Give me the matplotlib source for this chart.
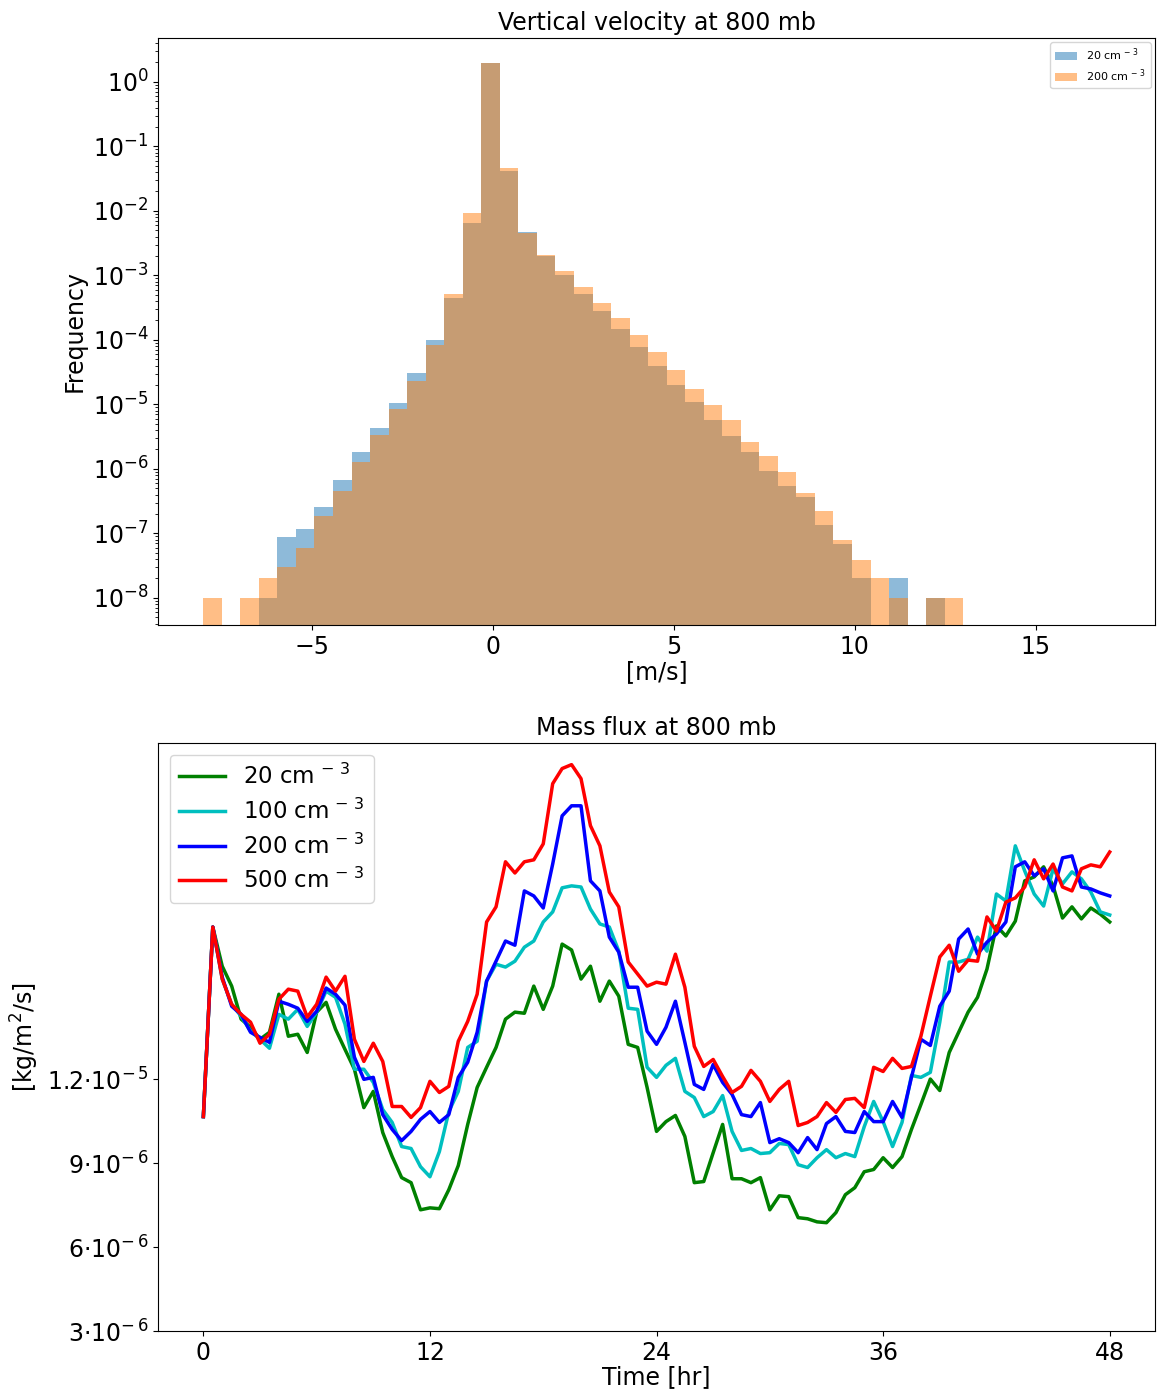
import numpy as np
import matplotlib
matplotlib.use('Agg')
import matplotlib.pyplot as plt

# --- histogram of vertical velocity (density, log scale) ---
w_min, w_max, n_bins = -8.0, 13.0, 41

freq_20 = [0, 0, 0, 1e-8, 8.8e-8, 1.17e-7, 2.55e-7, 6.7e-7, 1.8e-6, 4.3e-6,
           1.05e-5, 3.1e-5, 9.9e-5, 4.4e-4, 6.6e-3, 1.95, 0.042, 4.7e-3, 2.0e-3, 1.0e-3,
           5.1e-4, 2.8e-4, 1.47e-4, 7.7e-5, 3.9e-5, 2.0e-5, 1.1e-5, 5.7e-6, 3.2e-6, 1.8e-6,
           9.3e-7, 5.5e-7, 3.6e-7, 1.37e-7, 6.9e-8, 2e-8, 0, 2e-8, 0, 1e-8, 0]
freq_200 = [1e-8, 0, 1e-8, 2e-8, 3e-8, 5.9e-8, 1.87e-7, 4.6e-7, 1.29e-6, 3.4e-6,
            8.5e-6, 2.3e-5, 8.3e-5, 5.1e-4, 9.4e-3, 1.95, 0.046, 4.6e-3, 2.1e-3, 1.15e-3,
            6.5e-4, 3.7e-4, 2.2e-4, 1.2e-4, 6.5e-5, 3.4e-5, 1.74e-5, 9.8e-6, 5.7e-6, 2.6e-6,
            1.6e-6, 9.1e-7, 4.2e-7, 2.2e-7, 7.8e-8, 3.9e-8, 2e-8, 1e-8, 0, 1e-8, 1e-8]
hist_labels = ['20 cm$^{\\,-\\,3}$', '200 cm$^{\\,-\\,3}$']

# --- mass flux time series (units of 1e-6 kg/m2/s), every 0.5 hr ---
hours = np.arange(0, 48.5, 0.5)

flux_20 = [10.66, 17.43, 16.03, 15.32, 14.14, 13.85, 13.42, 13.67, 15.03, 13.53,
           13.60, 12.95, 14.39, 14.74, 13.78, 13.06, 12.35, 10.98, 11.56, 10.09,
           9.23, 8.48, 8.30, 7.33, 7.40, 7.37, 8.05, 8.91, 10.38, 11.70,
           12.42, 13.13, 14.14, 14.39, 14.35, 15.32, 14.49, 15.32, 16.82, 16.61,
           15.57, 16.03, 14.78, 15.50, 14.96, 13.24, 13.13, 11.70, 10.13, 10.48,
           10.70, 9.95, 8.30, 8.34, 9.37, 10.38, 8.44, 8.44, 8.30, 8.48,
           7.33, 7.83, 7.80, 7.05, 7.01, 6.90, 6.87, 7.23, 7.87, 8.12,
           8.69, 8.77, 9.19, 8.84, 9.23, 10.20, 11.09, 12.00, 11.59, 12.95,
           13.67, 14.39, 14.92, 15.93, 17.47, 17.11, 17.64, 19.08, 19.22, 19.58,
           18.90, 17.75, 18.15, 17.72, 18.11, 17.89, 17.61]
flux_100 = [10.66, 17.43, 15.57, 14.67, 14.24, 13.71, 13.42, 13.10, 14.31, 14.14,
            14.49, 13.88, 14.39, 15.14, 14.92, 13.96, 12.35, 12.35, 11.88, 10.91,
            10.45, 9.59, 9.52, 8.87, 8.51, 9.41, 10.84, 11.56, 13.13, 13.35,
            15.50, 16.10, 16.00, 16.21, 16.71, 16.93, 17.61, 17.97, 18.83, 18.90,
            18.86, 18.07, 17.54, 17.43, 16.57, 14.53, 14.49, 12.42, 12.06, 12.49,
            12.74, 11.56, 11.34, 10.66, 10.84, 11.41, 10.13, 9.45, 9.52, 9.34,
            9.37, 9.70, 9.66, 8.94, 8.84, 9.19, 9.48, 9.19, 9.34, 9.23,
            10.30, 11.20, 10.48, 9.59, 10.45, 12.13, 12.06, 12.24, 14.03, 16.18,
            16.18, 16.28, 17.07, 16.57, 18.61, 18.36, 20.33, 19.43, 18.61, 18.18,
            19.51, 18.97, 19.40, 19.15, 18.68, 17.97, 17.86]
flux_200 = [10.66, 17.43, 15.64, 14.60, 14.31, 13.67, 13.49, 13.31, 14.78, 14.67,
            14.53, 14.06, 14.42, 15.25, 15.03, 14.64, 12.78, 11.99, 12.06, 10.73,
            10.20, 9.80, 10.13, 10.56, 10.84, 10.45, 10.73, 12.06, 12.60, 13.67,
            15.50, 16.21, 16.93, 16.78, 18.72, 18.54, 18.11, 19.68, 21.40, 21.76,
            21.76, 19.08, 18.72, 17.07, 16.53, 15.28, 15.28, 13.71, 13.24, 13.85,
            14.78, 13.31, 11.81, 11.63, 12.52, 11.88, 11.45, 10.73, 10.66, 11.16,
            9.73, 9.87, 9.73, 9.37, 9.91, 9.48, 10.41, 10.66, 10.13, 10.09,
            10.84, 10.48, 10.48, 11.20, 10.63, 12.06, 13.42, 13.20, 14.60, 15.14,
            17.00, 17.36, 16.46, 16.89, 17.18, 17.61, 19.58, 19.76, 19.26, 19.51,
            18.72, 19.90, 19.97, 18.86, 18.79, 18.65, 18.54]
flux_500 = [10.66, 17.43, 15.57, 14.67, 14.31, 14.03, 13.28, 13.60, 14.85, 15.21,
            15.14, 14.21, 14.67, 15.64, 15.14, 15.67, 13.42, 12.63, 13.28, 12.63,
            11.02, 11.02, 10.63, 10.98, 11.92, 11.52, 11.74, 13.35, 14.06, 15.03,
            17.61, 18.15, 19.76, 19.36, 19.76, 19.83, 20.40, 22.55, 23.09, 23.23,
            22.73, 21.05, 20.33, 18.68, 18.15, 16.18, 15.75, 15.32, 15.46, 15.39,
            16.46, 15.28, 13.17, 12.45, 12.70, 12.09, 11.52, 11.74, 12.31, 11.92,
            11.20, 11.63, 11.92, 10.34, 10.45, 10.66, 11.16, 10.81, 11.27, 11.31,
            10.98, 12.42, 12.27, 12.74, 12.38, 12.45, 13.53, 14.96, 16.36, 16.78,
            15.85, 16.25, 16.21, 17.79, 17.29, 18.32, 18.47, 18.86, 19.83, 19.15,
            19.68, 18.86, 18.72, 19.51, 19.65, 19.58, 20.11]
flux_labels = ['20 cm$^{\\,-\\,3}$', '100 cm$^{\\,-\\,3}$',
               '200 cm$^{\\,-\\,3}$', '500 cm$^{\\,-\\,3}$']
flux_colors = ['g', 'c', 'b', 'r']

ytick_vals = [3e-6, 6e-6, 9e-6, 1.2e-5]
ytick_labels = [r'$3{\cdot}10^{-\,6}$', r'$6{\cdot}10^{-\,6}$',
                r'$9{\cdot}10^{-\,6}$', r'$1.2{\cdot}10^{-\,5}$']
time_ticks = [0, 12, 24, 36, 48]


fig = plt.figure(figsize=(11.57, 13.91), dpi=100)

# Top panel: histogram
ax1 = fig.add_axes([0.1366, 0.5507, 0.8617, 0.422])
edges = np.linspace(w_min, w_max, n_bins + 1)
centers = 0.5 * (edges[:-1] + edges[1:])
ax1.hist(centers, bins=edges, weights=freq_20, alpha=0.5, label=hist_labels[0])
ax1.hist(centers, bins=edges, weights=freq_200, alpha=0.5, label=hist_labels[1])
ax1.set_yscale('log')
ax1.set_ylim(3.8e-9, 4.8)
ax1.set_xlim(-9.25, 18.3)
ax1.set_xlabel('[m/s]', fontsize=17, labelpad=1)
ax1.set_ylabel('Frequency', fontsize=17)
ax1.set_title('Vertical velocity at 800 mb', fontsize=17)
ax1.tick_params(labelsize=17)
ax1.legend(loc='upper right', fontsize=8, borderaxespad=0.4, labelspacing=0.35)

# Bottom panel: mass flux
ax2 = fig.add_axes([0.1366, 0.0431, 0.8617, 0.4227])
for vals, lab, col in zip([flux_20, flux_100, flux_200, flux_500], flux_labels, flux_colors):
    ax2.plot(hours, np.array(vals) * 1e-6, color=col, linewidth=2.5, label=lab)
ax2.set_ylim(3e-6, 2.4e-5)
ax2.set_yticks(ytick_vals)
ax2.set_yticklabels(ytick_labels)
ax2.set_xticks(time_ticks)
ax2.set_xlabel('Time [hr]', fontsize=17, labelpad=0)
ax2.set_ylabel('[kg/m$^2$/s]', fontsize=17)
ax2.set_title('Mass flux at 800 mb', fontsize=17)
ax2.tick_params(labelsize=17)
ax2.legend(loc='upper left', fontsize=16.5, labelspacing=0.42)

plt.savefig('out.png', dpi=100)
plt.close()
